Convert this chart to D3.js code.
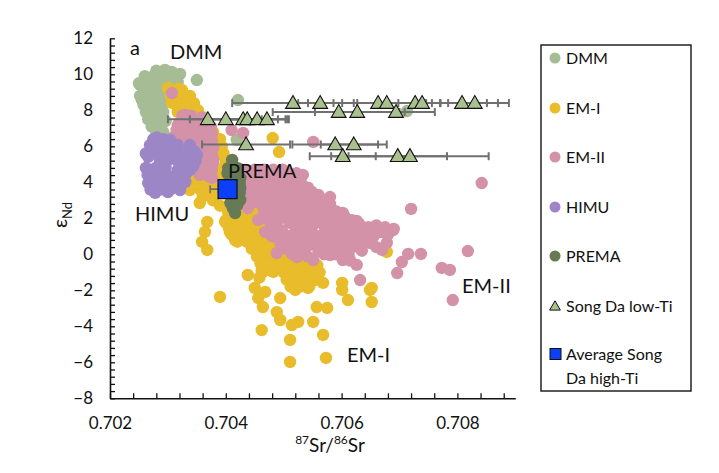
<!DOCTYPE html>
<html><head><meta charset="utf-8">
<script src="https://cdn.jsdelivr.net/npm/d3@7"></script>
<style>
body{margin:0;background:#fff;}
svg text{font-family:Lato,"Open Sans",sans-serif;fill:#111;}
</style></head>
<body><svg id="c" width="719" height="473"></svg>
<script>
// ---- data ----
const dmm = [[0.70307,10.13],[0.70286,10.07],[0.70295,10.24],[0.70321,10.02],[0.70266,9.79],[0.70252,9.41],[0.70279,9.57],[0.70300,9.68],[0.70317,9.57],[0.70350,9.68],
[0.70260,9.02],[0.70278,9.02],[0.70295,9.13],[0.70255,8.57],[0.70273,8.57],[0.70290,8.68],[0.70266,8.02],[0.70283,8.13],[0.70269,7.46],[0.70286,7.57],
[0.70278,7.02],[0.70292,6.79],[0.70300,6.24],[0.70300,5.96],[0.70421,8.57],[0.70419,6.35],[0.70713,7.96],
[0.70280,10.2],[0.70260,9.9],[0.70275,9.9],[0.70290,9.9],[0.70305,9.9],[0.70250,9.5],[0.70265,9.5],[0.70296,9.5],[0.70312,9.5],
[0.70268,9.1],[0.70284,9.1],[0.70252,8.8],[0.70270,8.8],[0.70286,8.8],[0.70258,8.3],[0.70274,8.3],[0.70290,8.3],[0.70262,7.9],[0.70278,7.9],[0.70292,7.9],
[0.70266,7.5],[0.70282,7.3],[0.70296,7.4],[0.70272,7.1],[0.70288,7.1],[0.70280,6.7],[0.70294,6.5],[0.70290,6.3]];
const em1 = [[0.70300,9.24],[0.70312,8.85],[0.70324,9.13],[0.70307,8.41],[0.70330,8.57],[0.70338,8.13],[0.70317,7.91],[0.70347,7.74],[0.70330,7.46],[0.70355,7.35],
[0.70364,6.91],[0.70376,6.46],[0.70386,6.07],[0.70393,5.52],[0.70399,4.96],[0.70381,4.68],[0.70390,4.13],[0.70481,6.46],[0.70492,5.68],
[0.70347,4.13],[0.70364,3.85],[0.70338,3.57],[0.70373,3.29],[0.70355,2.85],[0.70368,1.80],[0.70364,1.24],[0.70359,0.69],[0.70368,0.24],[0.70390,-2.37],
[0.70404,2.35],[0.70425,2.46],[0.70399,1.80],[0.70421,1.80],[0.70442,2.02],[0.70407,1.24],[0.70433,1.35],[0.70456,1.35],[0.70416,0.79],[0.70442,0.68],
[0.70462,0.79],[0.70476,0.52],[0.70454,-0.13],[0.70468,-0.46],[0.70438,-1.15],[0.70464,-0.98],[0.70482,-0.98],[0.70450,-1.87],[0.70468,-2.09],[0.70456,-2.43],
[0.70464,-2.93],[0.70488,-3.21],[0.70494,-3.65],[0.70514,-3.93],[0.70525,-3.76],[0.70462,-4.21],[0.70511,-4.76],[0.70511,-5.98],[0.70551,-3.76],[0.70568,-4.48],
[0.70573,-5.76],[0.70557,-2.93],[0.70575,-2.98],[0.70568,-1.59],[0.70601,-1.59],[0.70601,-1.98],[0.70611,-2.54],[0.70649,-1.98],[0.70652,-2.65],[0.70652,-1.87],
[0.70494,-2.43],[0.70502,-0.32],[0.70520,-0.43],[0.70537,-0.59],[0.70507,-0.87],[0.70528,-0.98],[0.70549,-0.98],[0.70511,-1.43],[0.70533,-1.54],[0.70554,-1.43],
[0.70520,-1.98],[0.70542,-1.87],[0.70494,0.24],[0.70485,-0.43],[0.70678,0.13],
[0.70318,9.2],[0.70305,8.8],[0.70322,8.8],[0.70338,8.8],[0.70328,8.4],[0.70345,8.4],[0.70318,8.0],[0.70335,8.0],[0.70352,8.0],[0.70362,7.6],
[0.70370,7.2],[0.70378,6.8],[0.70390,6.4],[0.70393,6.0],[0.70396,5.6],[0.70400,5.2],[0.70392,4.4],[0.70362,4.0],[0.70380,4.0],[0.70356,3.6],[0.70372,3.6],[0.70388,3.6],
[0.70360,3.2],[0.70378,3.0],[0.70390,2.7],
[0.70418,2.3],[0.70434,2.3],[0.70450,2.3],[0.70400,1.9],[0.70416,1.9],[0.70432,1.9],[0.70448,1.9],[0.70464,1.9],[0.70405,1.5],[0.70421,1.5],[0.70437,1.5],[0.70453,1.5],[0.70469,1.5],
[0.70410,1.1],[0.70426,1.1],[0.70442,1.1],[0.70458,1.1],[0.70474,1.1],[0.70420,0.7],[0.70436,0.7],[0.70452,0.7],[0.70468,0.7],[0.70482,0.7],[0.70445,0.3],[0.70460,0.3],[0.70476,0.3],[0.70490,0.3],
[0.70455,-0.1],[0.70470,-0.1],[0.70485,-0.1],[0.70460,-0.5],[0.70475,-0.5],[0.70462,-0.9],[0.70478,-0.9],[0.70458,-1.3],
[0.70500,-0.2],[0.70516,-0.2],[0.70532,-0.2],[0.70548,-0.2],[0.70495,-0.6],[0.70511,-0.6],[0.70527,-0.6],[0.70543,-0.6],[0.70558,-0.6],
[0.70500,-1.0],[0.70516,-1.0],[0.70532,-1.0],[0.70548,-1.0],[0.70562,-1.0],[0.70505,-1.4],[0.70521,-1.4],[0.70537,-1.4],[0.70553,-1.4],[0.70512,-1.8],[0.70528,-1.8],[0.70544,-1.8]];
const em2 = [[0.70307,8.96],[0.70330,7.74],[0.70317,7.18],[0.70342,7.35],[0.70355,7.02],[0.70307,6.46],[0.70330,6.63],[0.70347,6.35],[0.70364,6.35],[0.70321,5.79],
[0.70347,5.68],[0.70369,5.79],[0.70338,5.13],[0.70361,4.96],[0.70378,5.24],[0.70355,4.41],[0.70376,4.24],[0.70430,6.74],[0.70551,6.24],[0.70842,3.96],
[0.70433,4.68],[0.70456,4.57],[0.70442,4.02],[0.70468,4.13],[0.70490,4.24],[0.70514,4.41],[0.70533,4.41],[0.70450,3.29],[0.70476,3.46],[0.70502,3.57],
[0.70528,3.68],[0.70549,3.46],[0.70438,2.57],[0.70462,2.74],[0.70488,2.85],[0.70514,2.91],[0.70540,2.74],[0.70566,3.02],[0.70580,3.18],[0.70456,1.91],
[0.70480,2.02],[0.70506,2.18],[0.70532,2.02],[0.70559,2.18],[0.70589,2.35],[0.70606,2.07],[0.70468,1.24],[0.70494,1.35],[0.70520,1.24],[0.70545,1.35],
[0.70571,1.46],[0.70597,1.46],[0.70618,1.69],[0.70635,1.52],[0.70654,1.35],[0.70670,1.24],[0.70689,1.35],[0.70494,0.63],[0.70520,0.41],[0.70545,0.52],
[0.70571,0.52],[0.70597,0.69],[0.70623,0.79],[0.70649,0.63],[0.70488,0.07],[0.70523,-0.15],[0.70551,-0.32],[0.70580,-0.04],[0.70602,-0.32],[0.70626,-0.59],
[0.70632,-1.43],[0.70678,0.63],[0.70670,0.24],[0.70715,0.02],[0.70737,0.02],[0.70704,-0.43],[0.70696,-1.04],[0.70773,-0.76],[0.70787,-0.87],[0.70818,0.18],
[0.70792,-2.54],[0.70720,2.52],[0.70690,1.41],[0.70666,1.24],
[0.70325,7.7],[0.70340,7.7],[0.70320,7.3],[0.70336,7.3],[0.70352,7.3],[0.70315,6.9],[0.70331,6.9],[0.70347,6.9],[0.70362,6.9],[0.70321,6.5],[0.70337,6.5],[0.70353,6.5],[0.70368,6.6],
[0.70318,6.1],[0.70334,6.1],[0.70350,6.1],[0.70366,6.1],[0.70340,5.7],[0.70356,5.7],[0.70372,5.6],[0.70345,5.3],[0.70361,5.3],[0.70350,4.9],[0.70366,4.85],[0.70371,4.5],
[0.70374,7.1],[0.70376,6.7],[0.70376,6.3],[0.70378,5.9],[0.70376,5.5],[0.70378,5.1],[0.70376,4.7],[0.70372,4.3],[0.70358,7.6],[0.70410,6.9],
[0.70450,4.7],[0.70466,4.7],[0.70482,4.7],[0.70498,4.7],[0.70449,4.3],[0.70465,4.3],[0.70481,4.3],[0.70497,4.3],[0.70513,4.3],[0.70451,3.9],[0.70467,3.9],[0.70483,3.9],[0.70499,3.9],[0.70515,3.9],[0.70531,3.9],
[0.70438,3.5],[0.70454,3.5],[0.70470,3.5],[0.70486,3.5],[0.70518,3.5],[0.70534,3.5],[0.70440,3.1],[0.70456,3.1],[0.70472,3.1],[0.70488,3.1],[0.70504,3.1],[0.70520,3.1],[0.70536,3.1],[0.70552,3.1],
[0.70477,2.6],[0.70493,2.6],[0.70525,2.5],[0.70557,2.6],[0.70573,2.6],[0.70466,2.3],[0.70482,2.3],[0.70498,2.3],[0.70530,2.3],[0.70546,2.3],[0.70578,2.2],[0.70594,2.2],
[0.70474,1.9],[0.70490,1.9],[0.70522,1.9],[0.70554,1.9],[0.70570,1.9],[0.70586,1.9],[0.70618,1.9],[0.70486,1.6],[0.70534,1.6],[0.70550,1.6],[0.70582,1.6],[0.70612,1.4],[0.70646,1.5],
[0.70480,1.0],[0.70510,1.0],[0.70535,1.0],[0.70560,1.0],[0.70585,1.0],[0.70610,1.0],[0.70635,1.1],[0.70655,1.0],[0.70506,0.7],[0.70530,0.75],[0.70558,0.75],[0.70585,0.7],[0.70610,0.6],[0.70636,0.8],
[0.70508,0.25],[0.70535,0.15],[0.70560,0.2],[0.70595,0.25],[0.70612,0.1],[0.70635,0.2],[0.70540,-0.1],[0.70600,-0.05],
[0.70440,4.5],[0.70474,4.5],[0.70506,4.5],[0.70522,4.5],[0.70458,4.1],[0.70490,4.1],[0.70522,4.1],[0.70446,3.7],[0.70462,3.7],[0.70494,3.7],[0.70510,3.7],[0.70526,3.7],[0.70542,3.7],
[0.70464,3.3],[0.70496,3.3],[0.70512,3.3],[0.70528,3.3],[0.70544,3.3],[0.70560,3.3],[0.70450,2.9],[0.70470,2.9],[0.70500,2.9],[0.70530,2.9],[0.70548,2.9],[0.70565,2.85],[0.70580,2.8],
[0.70470,2.45],[0.70509,2.45],[0.70541,2.45],[0.70562,2.45],[0.70590,2.4],[0.70602,2.3],[0.70466,2.05],[0.70498,2.05],[0.70514,2.05],[0.70546,2.05],[0.70562,2.05],[0.70578,2.05],[0.70598,2.0],[0.70626,1.85],
[0.70478,1.75],[0.70510,1.75],[0.70526,1.75],[0.70542,1.75],[0.70566,1.75],[0.70598,1.75],[0.70630,1.7],[0.70660,1.6],[0.70675,1.5],
[0.70498,1.25],[0.70530,1.25],[0.70548,1.25],[0.70585,1.25],[0.70620,1.25],[0.70640,1.3],[0.70680,1.1],
[0.70495,0.9],[0.70522,0.9],[0.70548,0.9],[0.70572,0.9],[0.70598,0.9],[0.70622,0.9],[0.70645,0.85],
[0.70500,0.45],[0.70530,0.45],[0.70560,0.45],[0.70585,0.45],[0.70605,0.45],[0.70625,0.45],[0.70660,0.4],[0.70515,0.0],[0.70570,0.0],[0.70590,0.0],[0.70612,-0.1],[0.70615,-0.35]];
const himu = [[0.70281,6.49],[0.70304,6.35],[0.70269,6.07],[0.70292,5.90],[0.70317,6.07],[0.70338,6.07],[0.70266,5.41],[0.70286,5.24],[0.70312,5.35],[0.70333,5.35],
[0.70350,5.52],[0.70269,4.68],[0.70292,4.57],[0.70317,4.68],[0.70338,4.68],[0.70266,3.96],[0.70286,3.85],[0.70307,4.02],[0.70330,4.02],[0.70278,3.41],
[0.70300,3.46],[0.70321,3.57],
[0.70275,6.4],[0.70292,6.4],[0.70282,6.0],[0.70299,6.0],[0.70262,5.6],[0.70279,5.6],[0.70296,5.6],[0.70313,5.6],[0.70330,5.6],[0.70346,5.7],
[0.70299,5.2],[0.70316,5.2],[0.70348,5.2],[0.70262,4.8],[0.70279,4.8],[0.70296,4.8],[0.70330,4.8],[0.70344,4.9],[0.70265,4.4],[0.70282,4.4],[0.70299,4.4],[0.70316,4.4],[0.70330,4.4],
[0.70279,4.0],[0.70296,4.0],[0.70313,4.0],[0.70270,3.6],[0.70287,3.6],[0.70304,3.6]];
const prema = [[0.70411,5.24],[0.70404,4.79],[0.70421,4.79],[0.70407,4.24],[0.70425,4.24],[0.70404,3.68],[0.70425,3.68],[0.70411,3.13],[0.70425,3.02],[0.70412,2.57],[0.70416,2.29],
[0.70403,4.5],[0.70420,4.5],[0.70405,3.95],[0.70424,3.95],[0.70406,3.4],[0.70424,3.4],[0.70408,2.85],[0.70420,2.75]];
const songLowX = [0.70516,0.70563,0.70663,0.70678,0.70727,0.70739,0.70808,0.70830, 0.70595,0.70627,0.70694, 0.70369,0.70400,0.70430,0.70437,0.70454,0.70471, 0.70435,0.70589,0.70621, 0.70602,0.70697,0.70718];
const songLowY = [8.4,8.4,8.4,8.4,8.4,8.4,8.4,8.4, 7.9,7.9,7.9, 7.5,7.5,7.5,7.5,7.5,7.5, 6.1,6.1,6.1, 5.45,5.45,5.45];
const songLowErr = [0.00105,0.00038,0.00121,0.00092,0.00029,0.00112,0.00062,0.00059, 0.00114,0.00073,0.00067, 0.00069,0.00062,0.00060,0.00066,0.00052,0.00038, 0.00076,0.00074,0.00057, 0.00057,0.00085,0.00136];
const songHigh = {x:0.70403, y:3.62, err:0.0003};
const xMajor = [0.702,0.704,0.706,0.708];
const yMajor = [-8,-6,-4,-2,0,2,4,6,8,10,12];
const legendLabels = ["DMM","EM-I","EM-II","HIMU","PREMA","Song Da low-Ti","Average Song|Da high-Ti"];
const colors = {DMM:"#a6bc95",EM1:"#e8bc2a",EM2:"#d392a8",HIMU:"#9d86c6",PREMA:"#677a55",tri:"#a9c08f",sq:"#0b3ff8"};

// ---- drawing ----
const svg = d3.select("#c");
const x = d3.scaleLinear().domain([0.702,0.709]).range([110,515.3]);
const y = d3.scaleLinear().domain([-8,12]).range([398.3,38.3]);
const r = 6.2;

function cloud(data, col){
  svg.append("g").selectAll("circle").data(data).join("circle")
    .attr("cx",d=>x(d[0])).attr("cy",d=>y(d[1])).attr("r",r).attr("fill",col);
}
cloud(dmm,colors.DMM);
cloud(em1,colors.EM1);
cloud(em2,colors.EM2);
cloud(himu,colors.HIMU);
cloud(prema,colors.PREMA);

// axes
const xMinor = d3.range(0,18).map(i=>0.702+i*0.0004).filter(v=>v<=0.70901);
const yMinor = d3.range(0,51).map(i=>-8+i*0.4);
svg.append("g").attr("transform","translate(0,398.3)")
  .call(d3.axisBottom(x).tickValues(xMinor).tickSize(-5).tickFormat("").tickSizeOuter(0))
  .call(g=>g.select(".domain").attr("stroke","#111").attr("stroke-width",1.6))
  .call(g=>g.selectAll(".tick line").attr("stroke","#111").attr("stroke-width",1.3));
svg.append("g").attr("transform","translate(0,398.3)")
  .call(d3.axisBottom(x).tickValues(xMajor).tickSize(0).tickPadding(19).tickFormat(d3.format(".3f")))
  .call(g=>g.select(".domain").remove())
  .call(g=>g.selectAll("text").attr("font-size",17).attr("fill","#111").style("font-family","Lato"));
svg.append("g").attr("transform","translate(110,0)")
  .call(d3.axisLeft(y).tickValues(yMinor).tickSize(-5).tickFormat("").tickSizeOuter(0))
  .call(g=>g.select(".domain").attr("stroke","#111").attr("stroke-width",1.6))
  .call(g=>g.selectAll(".tick line").attr("stroke","#111").attr("stroke-width",1.3));
svg.append("g").attr("transform","translate(110,0)")
  .call(d3.axisLeft(y).tickValues(yMajor).tickSize(0).tickPadding(17).tickFormat(d3.format("d")))
  .call(g=>g.select(".domain").remove())
  .call(g=>g.selectAll("text").attr("font-size",17).attr("fill","#111").style("font-family","Lato"));

// error bars + triangles
const tri = d3.symbol().type(d3.symbolTriangle).size(95);
const low = songLowX.map((v,i)=>({x:v,y:songLowY[i],e:songLowErr[i]}));
const eb = svg.append("g").attr("stroke","#707070").attr("stroke-width",2);
low.forEach(d=>{
  eb.append("line").attr("x1",x(d.x-d.e)).attr("x2",x(d.x+d.e)).attr("y1",y(d.y)).attr("y2",y(d.y));
  [d.x-d.e,d.x+d.e].forEach(v=>eb.append("line").attr("x1",x(v)).attr("x2",x(v)).attr("y1",y(d.y)-4).attr("y2",y(d.y)+4));
});
svg.append("g").selectAll("path").data(low).join("path")
  .attr("d",tri).attr("transform",d=>`translate(${x(d.x)},${y(d.y)+1})`)
  .attr("fill",colors.tri).attr("stroke","#111").attr("stroke-width",1.1);

// high-Ti square
const sqg = svg.append("g");
sqg.append("line").attr("x1",x(songHigh.x-songHigh.err)).attr("x2",x(songHigh.x+songHigh.err))
  .attr("y1",y(songHigh.y)).attr("y2",y(songHigh.y)).attr("stroke","#707070").attr("stroke-width",1.6);
[songHigh.x-songHigh.err,songHigh.x+songHigh.err].forEach(v=>sqg.append("line").attr("x1",x(v)).attr("x2",x(v))
  .attr("y1",y(songHigh.y)-4).attr("y2",y(songHigh.y)+4).attr("stroke","#707070").attr("stroke-width",1.6));
sqg.append("rect").attr("x",x(songHigh.x)-9.5).attr("y",y(songHigh.y)-9.5).attr("width",19).attr("height",19)
  .attr("fill",colors.sq).attr("stroke","#111").attr("stroke-width",1.2);

// in-plot labels
const lab = [["a",130,55],["DMM",170,59],["PREMA",228,178],["HIMU",135,221],["EM-II",462,293],["EM-I",347,362]];
svg.append("g").selectAll("text").data(lab).join("text")
  .attr("x",d=>d[1]).attr("y",d=>d[2]).attr("font-size",20).text(d=>d[0]);

// axis titles
const yt = svg.append("text").attr("transform","translate(67,215) rotate(-90)").attr("text-anchor","middle").attr("font-size",20);
yt.append("tspan").text("ε");
yt.append("tspan").attr("font-size",13).attr("dy",5).text("Nd");
const xt = svg.append("text").attr("x",330).attr("y",452).attr("text-anchor","middle").attr("font-size",19);
xt.append("tspan").attr("font-size",12).attr("dy",-8).text("87");
xt.append("tspan").attr("dy",8).text("Sr/");
xt.append("tspan").attr("font-size",12).attr("dy",-8).text("86");
xt.append("tspan").attr("dy",8).text("Sr");

// legend
const lg = svg.append("g");
lg.append("rect").attr("x",541).attr("y",45).attr("width",150).attr("height",346).attr("fill","none").attr("stroke","#222").attr("stroke-width",1.5);
const legY = [58,108,157,207,256,306,354];
const legCol = [colors.DMM,colors.EM1,colors.EM2,colors.HIMU,colors.PREMA];
legendLabels.forEach((t,i)=>{
  const yy = legY[i];
  if(i<5) lg.append("circle").attr("cx",555).attr("cy",yy).attr("r",5.5).attr("fill",legCol[i]);
  else if(i===5) lg.append("path").attr("d",d3.symbol().type(d3.symbolTriangle).size(50)).attr("transform",`translate(555,${yy+1})`).attr("fill",colors.tri).attr("stroke","#111").attr("stroke-width",1);
  else lg.append("rect").attr("x",550).attr("y",yy-5.5).attr("width",11).attr("height",11).attr("fill",colors.sq).attr("stroke","#111").attr("stroke-width",1);
  t.split("|").forEach((ln,j)=>lg.append("text").attr("x",566).attr("y",yy+6+j*24).attr("font-size",16).text(ln));
});
</script></body></html>
